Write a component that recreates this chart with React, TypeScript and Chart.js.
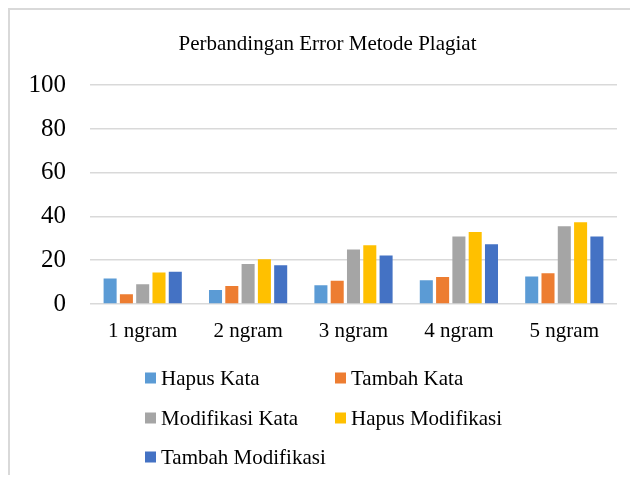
import React, { useEffect, useRef } from "react";
import { Chart, registerables } from "chart.js";

Chart.register(...registerables);

const categories = ["1 ngram", "2 ngram", "3 ngram", "4 ngram", "5 ngram"];
const hapusKata = [11.7, 6.4, 8.6, 10.8, 12.6];
const tambahKata = [4.5, 8.2, 10.6, 12.3, 14.0];
const modifikasiKata = [9.0, 18.3, 24.9, 30.8, 35.5];
const hapusModifikasi = [14.4, 20.5, 26.8, 32.9, 37.4];
const tambahModifikasi = [14.7, 17.7, 22.2, 27.3, 30.9];

const seriesNames = ["Hapus Kata", "Tambah Kata", "Modifikasi Kata", "Hapus Modifikasi", "Tambah Modifikasi"];
const seriesColors = ["#5B9BD5", "#ED7D31", "#A5A5A5", "#FFC000", "#4472C4"];
const seriesValues = [hapusKata, tambahKata, modifikasiKata, hapusModifikasi, tambahModifikasi];

const yMin = 0;
const yMax = 100;
const yStep = 20;

const titleText = "Perbandingan Error Metode Plagiat";
const FONT = "'Liberation Serif', 'Times New Roman', serif";

const legendPlugin = {
  id: "gridLegend",
  afterDraw(chart: any) {
    const ctx = chart.ctx;
    const cols = [135, 325];
    const rows = [368, 408, 447];
    chart.data.datasets.forEach((ds: any, i: number) => {
      const x = cols[i % 2];
      const y = rows[Math.floor(i / 2)];
      ctx.save();
      ctx.fillStyle = ds.backgroundColor;
      ctx.fillRect(x, y - 5.5, 11, 11);
      ctx.fillStyle = "#000";
      ctx.font = `21px ${FONT}`;
      ctx.textBaseline = "middle";
      ctx.textAlign = "left";
      ctx.fillText(ds.label, x + 16, y + 1);
      ctx.restore();
    });
  },
};

export default function App() {
  const ref = useRef<HTMLCanvasElement | null>(null);

  useEffect(() => {
    if (!ref.current) return;
    const chart = new Chart(ref.current, {
      type: "bar",
      data: {
        labels: categories,
        datasets: seriesNames.map((name, i) => ({
          label: name,
          data: seriesValues[i],
          backgroundColor: seriesColors[i],
          borderWidth: 0,
          categoryPercentage: 0.773,
          barPercentage: 0.8,
        })),
      },
      options: {
        animation: false,
        responsive: true,
        maintainAspectRatio: false,
        layout: { padding: { left: 16, right: 7, top: 0, bottom: 127 } },
        plugins: {
          legend: { display: false },
          tooltip: { enabled: false },
          title: {
            display: true,
            text: titleText,
            color: "#000",
            font: { family: FONT, size: 21, weight: "normal" },
            padding: { top: 22, bottom: 28 },
          },
        },
        scales: {
          x: {
            grid: { display: false },
            border: { display: false },
            ticks: {
              color: "#000",
              font: { family: FONT, size: 21 },
              padding: 7,
            },
            afterFit(scale: any) {
              scale.height = 52;
            },
          },
          y: {
            min: yMin,
            max: yMax,
            grid: { color: "#d9d9d9", lineWidth: 1.5, drawTicks: false },
            border: { display: false },
            ticks: {
              stepSize: yStep,
              color: "#000",
              font: { family: FONT, size: 25 },
              padding: 24,
            },
            afterFit(scale: any) {
              scale.width = 64;
            },
          },
          yRight: {
            position: "right",
            display: true,
            grid: { display: false, drawTicks: false },
            border: { display: false },
            ticks: { display: false },
            afterFit(scale: any) {
              scale.width = 12;
            },
          },
        },
      },
      plugins: [legendPlugin],
    } as any);
    return () => chart.destroy();
  }, []);

  return (
    <div
      style={{
        position: "relative",
        width: 626,
        height: 473,
        marginBottom: -8,
        borderLeft: "2px solid #d9d9d9",
        borderTop: "2px solid #d9d9d9",
      }}
    >
      <canvas ref={ref} style={{ display: "block" }} />
    </div>
  );
}
